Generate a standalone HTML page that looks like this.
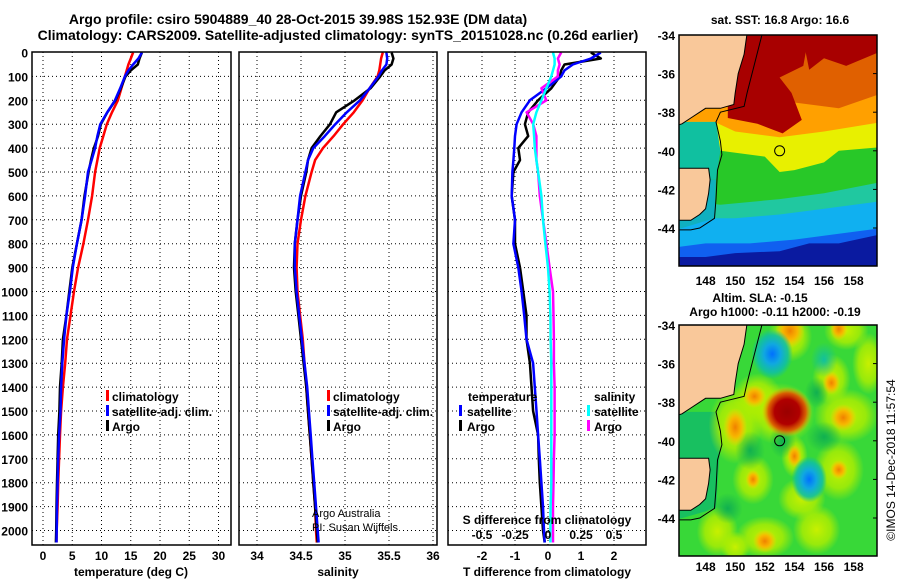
<!DOCTYPE html>
<html><head><meta charset="utf-8"><style>
html,body{margin:0;padding:0;background:#fff;}
svg{display:block;font-family:"Liberation Sans",Arial,sans-serif;}
text{font-weight:bold;fill:#000;}
</style></head><body>
<svg id="fig" width="900" height="580" viewBox="0 0 900 580" xmlns="http://www.w3.org/2000/svg">
<defs>
<clipPath id="c1"><rect x="32" y="52" width="199" height="493"/></clipPath>
<clipPath id="c2"><rect x="239" y="52" width="198" height="493"/></clipPath>
<clipPath id="c3"><rect x="448" y="52" width="198" height="493"/></clipPath>
<clipPath id="cm1"><rect x="679" y="35" width="198" height="231"/></clipPath>
<clipPath id="cm2"><rect x="679" y="325" width="198" height="231"/></clipPath>
<radialGradient id="gY"><stop offset="0" stop-color="#c8f000"/><stop offset="0.6" stop-color="#b0ee00" stop-opacity="0.8"/><stop offset="1" stop-color="#b0ee00" stop-opacity="0"/></radialGradient>
<radialGradient id="gO"><stop offset="0" stop-color="#f08000"/><stop offset="0.5" stop-color="#ffb000" stop-opacity="0.9"/><stop offset="1" stop-color="#ffd000" stop-opacity="0"/></radialGradient>
<radialGradient id="gR"><stop offset="0" stop-color="#9a0000"/><stop offset="0.5" stop-color="#b00000"/><stop offset="0.75" stop-color="#e05000" stop-opacity="0.9"/><stop offset="1" stop-color="#ffb000" stop-opacity="0"/></radialGradient>
<radialGradient id="gB"><stop offset="0" stop-color="#0070ff"/><stop offset="0.4" stop-color="#10a8e0"/><stop offset="0.75" stop-color="#10c0a0" stop-opacity="0.9"/><stop offset="1" stop-color="#10c0a0" stop-opacity="0"/></radialGradient>
<radialGradient id="gT"><stop offset="0" stop-color="#10c0a0"/><stop offset="1" stop-color="#10c0a0" stop-opacity="0"/></radialGradient>
<radialGradient id="gG"><stop offset="0" stop-color="#10b050"/><stop offset="1" stop-color="#10b050" stop-opacity="0"/></radialGradient>
</defs>

<text x="298" y="24" text-anchor="middle" font-size="14">Argo profile: csiro 5904889_40 28-Oct-2015 39.98S 152.93E (DM data)</text>
<text x="338" y="40" text-anchor="middle" font-size="14">Climatology: CARS2009. Satellite-adjusted climatology: synTS_20151028.nc (0.26d earlier)</text>

<g id="grids"></g>
<g id="marks"></g>

<rect x="32" y="52" width="199" height="493" fill="none" stroke="#000" stroke-width="1.5"/>
<rect x="239" y="52" width="198" height="493" fill="none" stroke="#000" stroke-width="1.5"/>
<rect x="448" y="52" width="198" height="493" fill="none" stroke="#000" stroke-width="1.5"/>

<g id="labels" font-size="12"></g>

<text x="131" y="576" text-anchor="middle" font-size="12">temperature (deg C)</text>
<text x="338" y="576" text-anchor="middle" font-size="12">salinity</text>
<text x="547" y="576" text-anchor="middle" font-size="12">T difference from climatology</text>
<text x="547" y="524" text-anchor="middle" font-size="12">S difference from climatology</text>

<g font-size="12">
<rect x="106" y="390" width="3" height="11" fill="#f00"/><text x="112" y="401">climatology</text>
<rect x="106" y="405" width="3" height="11" fill="#00f"/><text x="112" y="416">satellite-adj. clim.</text>
<rect x="106" y="420" width="3" height="11" fill="#000"/><text x="112" y="431">Argo</text>
</g>
<g font-size="12">
<rect x="327" y="390" width="3" height="11" fill="#f00"/><text x="333" y="401">climatology</text>
<rect x="327" y="405" width="3" height="11" fill="#00f"/><text x="333" y="416">satellite-adj. clim.</text>
<rect x="327" y="420" width="3" height="11" fill="#000"/><text x="333" y="431">Argo</text>
</g>
<text x="312" y="517" font-size="11" style="font-weight:normal" fill="#222">Argo Australia</text>
<text x="312" y="531" font-size="11" style="font-weight:normal" fill="#222">PI: Susan Wijffels</text>
<g font-size="12">
<text x="468" y="401">temperature</text>
<rect x="459" y="405" width="3" height="11" fill="#00f"/><text x="467" y="416">satellite</text>
<rect x="459" y="420" width="3" height="11" fill="#000"/><text x="467" y="431">Argo</text>
<text x="594" y="401">salinity</text>
<rect x="587" y="405" width="3" height="11" fill="#0ff"/><text x="594" y="416">satellite</text>
<rect x="587" y="420" width="3" height="11" fill="#f0f"/><text x="594" y="431">Argo</text>
</g>

<g id="map1" clip-path="url(#cm1)"></g>
<g id="map2" clip-path="url(#cm2)"></g>
<rect x="679" y="35" width="198" height="231" fill="none" stroke="#000" stroke-width="1.5"/>
<rect x="679" y="325" width="198" height="231" fill="none" stroke="#000" stroke-width="1.5"/>
<g id="maplabels" font-size="12"></g>
<text x="780" y="24" text-anchor="middle" font-size="12">sat. SST: 16.8 Argo: 16.6</text>
<text x="760" y="302" text-anchor="middle" font-size="12">Altim. SLA: -0.15</text>
<text x="775" y="316" text-anchor="middle" font-size="12">Argo h1000: -0.11 h2000: -0.19</text>
<text transform="translate(895,460) rotate(-90)" text-anchor="middle" font-size="12" style="font-weight:normal">©IMOS 14-Dec-2018 11:57:54</text>
</svg>
<script>
const depths = [0,25,50,75,100,150,200,250,300,350,400,450,500,600,700,800,900,1000,1100,1200,1300,1400,1500,1600,1700,1800,1900,2000,2050];
const climT = [15.4,15.0,14.6,14.3,14.0,13.4,12.8,11.8,10.9,10.3,9.7,9.3,8.9,8.4,7.7,6.9,6.0,5.3,4.7,4.1,3.8,3.4,3.1,2.9,2.75,2.6,2.5,2.35,2.3];
const satT = [16.9,16.3,15.4,14.6,14.0,13.2,12.3,11.0,9.8,9.3,8.9,8.3,7.7,7.2,6.6,5.8,5.1,4.6,4.0,3.6,3.3,3.1,3.0,2.75,2.6,2.5,2.4,2.35,2.3];
const argoT = [16.9,16.5,16.2,15.0,14.1,13.3,12.4,11.0,9.9,9.4,8.7,8.2,7.8,7.1,6.6,5.8,5.0,4.5,4.0,3.4,3.2,2.9,2.8,2.6,2.5,2.4,2.3,2.25,2.2];
const climS = [35.43,35.41,35.4,35.39,35.37,35.28,35.2,35.1,34.98,34.87,34.75,34.66,34.62,34.55,34.5,34.46,34.45,34.46,34.49,34.52,34.54,34.56,34.58,34.6,34.62,34.64,34.66,34.67,34.68];
const satS = [35.47,35.48,35.47,35.42,35.38,35.28,35.17,35.02,34.89,34.77,34.64,34.58,34.55,34.49,34.46,34.43,34.43,34.45,34.48,34.51,34.54,34.57,34.59,34.61,34.63,34.65,34.67,34.69,34.7];
const argoS = [35.53,35.55,35.53,35.45,35.4,35.29,35.11,34.9,34.83,34.72,34.62,34.58,34.56,34.5,34.46,34.43,34.42,34.44,34.47,34.5,34.53,34.56,34.58,34.6,34.62,34.64,34.66,34.68,34.69];
const argoTdiff = [1.3,1.6,0.5,0.4,0.36,0.1,-0.3,-0.6,-0.7,-0.6,-0.9,-0.85,-1.05,-1.1,-1.0,-1.0,-0.85,-0.75,-0.65,-0.65,-0.55,-0.5,-0.45,-0.3,-0.28,-0.25,-0.2,-0.15,-0.1];
const satTdiff = [1.6,1.3,0.75,0.5,0.4,-0.05,-0.55,-0.8,-0.95,-1.0,-1.02,-1.05,-1.08,-1.1,-1.0,-1.05,-0.9,-0.8,-0.72,-0.65,-0.45,-0.4,-0.35,-0.3,-0.25,-0.2,-0.15,-0.12,-0.1];
const satSdiff = [0.038,0.05,0.05,0.038,0.025,-0.012,-0.05,-0.088,-0.112,-0.105,-0.1,-0.088,-0.075,-0.05,-0.038,-0.02,0,0.012,0.018,0.02,0.025,0.025,0.025,0.025,0.025,0.025,0.02,0.018,0.018];
const argoSdiff = [0.1,0.075,0.088,0.075,0.075,-0.05,-0.012,-0.162,-0.112,-0.088,-0.088,-0.088,-0.075,-0.062,-0.038,-0.012,0.012,0.038,0.042,0.045,0.045,0.05,0.05,0.05,0.045,0.042,0.038,0.038,0.038];
const depthTicks = [0,100,200,300,400,500,600,700,800,900,1000,1100,1200,1300,1400,1500,1600,1700,1800,1900,2000];
const tTicks = [0,5,10,15,20,25,30];
const sTicks = [34,34.5,35,35.5,36];
const tdTicks = [-2,-1,0,1,2];
const sdTicks = [-0.5,-0.25,0,0.25,0.5];
const sdTickLabels = ["-0.5","-0.25","0","0.25","0.5"];
const latTicks = [-34,-36,-38,-40,-42,-44];
const lonTicks = [148,150,152,154,156,158];

const NS='http://www.w3.org/2000/svg';
function yD(d){return 52.5+d*0.239;}
function xT(t){return 43+t*5.85;}
function xS(s){return 257+(s-34)*88;}
function xTd(t){return 548+t*33;}
function xSd(s){return 548+s*132;}
function mk(tag,attrs,parent){const e=document.createElementNS(NS,tag);for(const k in attrs)e.setAttribute(k,attrs[k]);parent.appendChild(e);return e;}
const grids=document.getElementById('grids'), marks=document.getElementById('marks'), labels=document.getElementById('labels');
const panels=[[32,231,xT,tTicks],[239,437,xS,sTicks],[448,646,xTd,tdTicks]];
panels.forEach(p=>{
  depthTicks.forEach(d=>{if(d>0){const l=mk('line',{x1:p[0],x2:p[1],y1:yD(d),y2:yD(d),stroke:'#000','stroke-width':1,'stroke-dasharray':'1,3'},grids);
    
    }});
  p[3].forEach(v=>{const x=p[2](v);const l=mk('line',{x1:x,x2:x,y1:52,y2:545,stroke:'#000','stroke-width':1,'stroke-dasharray':'1,3'},grids);
    
    });
});
depthTicks.forEach(d=>{const t=mk('text',{x:28,y:yD(d)+5,'text-anchor':'end'},labels);t.textContent=d;
  
  });
tTicks.forEach(v=>{const t=mk('text',{x:xT(v),y:560,'text-anchor':'middle'},labels);t.textContent=v;
  
  });
sTicks.forEach(v=>{const t=mk('text',{x:xS(v),y:560,'text-anchor':'middle'},labels);t.textContent=v;
  
  });
tdTicks.forEach(v=>{const t=mk('text',{x:xTd(v),y:560,'text-anchor':'middle'},labels);t.textContent=v;
  
  });
sdTicks.forEach((v,i)=>{const t=mk('text',{x:xSd(v),y:539,'text-anchor':'middle'},labels);t.textContent=sdTickLabels[i];
  
  });

function line(vals,fx,color,clip,name){
  const pts=vals.map((v,i)=>fx(v).toFixed(1)+','+yD(depths[i]).toFixed(1)).join(' ');
  const pl=mk('polyline',{points:pts,fill:'none',stroke:color,'stroke-width':2.5,'stroke-linejoin':'round','clip-path':'url(#'+clip+')'},marks);
  
  
}
line(climT,xT,'#f00','c1','climatology-temperature-line');
line(argoT,xT,'#000','c1','argo-temperature-line');
line(satT,xT,'#00f','c1','satellite-temperature-line');
line(climS,xS,'#f00','c2','climatology-salinity-line');
line(argoS,xS,'#000','c2','argo-salinity-line');
line(satS,xS,'#00f','c2','satellite-salinity-line');
line(argoTdiff,xTd,'#000','c3','argo-tdiff-line');
line(satTdiff,xTd,'#00f','c3','satellite-tdiff-line');
line(argoSdiff,xSd,'#f0f','c3','argo-sdiff-line');
line(satSdiff,xSd,'#0ff','c3','satellite-sdiff-line');

function mx(lon){return 679+(lon-146.2)*14.8;}
function my(lat,off){return off+(-34-lat)*19.3;}
function poly(g,off,pts,fill,name,stroke){
  const p=pts.map(q=>mx(q[0]).toFixed(1)+','+my(q[1],off).toFixed(1)).join(' ');
  const e=mk('polygon',{points:p,fill:fill||'none'},g);
  if(stroke){e.setAttribute('stroke',stroke);e.setAttribute('stroke-width','1');}
  
  
}
function pline(g,off,pts,name){
  const p=pts.map(q=>mx(q[0]).toFixed(1)+','+my(q[1],off).toFixed(1)).join(' ');
  const e=mk('polyline',{points:p,fill:'none',stroke:'#000','stroke-width':1},g);
  
  
}
function blob(g,off,lon,lat,rx,ry,grad){
  const e=mk('ellipse',{cx:mx(lon),cy:my(lat,off),rx:rx*14.8,ry:ry*19.3,fill:'url(#'+grad+')'},g);
  
  
}
const mainland=[[146.0,-33.9],[150.8,-33.9],[150.6,-35],[150.2,-36],[150.0,-37],[149.9,-37.6],[149.0,-37.8],[148,-37.8],[147,-38.3],[146.4,-38.6],[146.0,-38.7]];
const tasmania=[[146.0,-40.9],[147.5,-40.9],[148.2,-40.9],[148.3,-41.5],[148.2,-42.2],[148,-43],[147.6,-43.3],[147,-43.6],[146.0,-43.6]];
const shelf=[[151.8,-34],[151.3,-35.5],[150.8,-37],[150.6,-37.7],[149,-38],[148.7,-38.5],[149,-39.5],[149.1,-40.2],[148.8,-41],[148.7,-42.5],[148.6,-43.5],[147.6,-44],[147,-44.1],[146.0,-44.1]];

const m1=document.getElementById('map1'), O1=35;
poly(m1,O1,[[146,-33],[160,-33],[160,-47],[146,-47]],'#1060f0','sst-sea');
poly(m1,O1,[[146,-47],[160,-47],[160,-44.3],[157,-44.8],[155,-44.8],[153,-45.2],[150,-45.3],[148,-45.5],[146,-45.5]],'#0a1aa0','sst-cold-band');
poly(m1,O1,[[146,-43.5],[160,-42.5],[160,-44],[157,-44.3],[154,-44.6],[151,-44.8],[148,-44.8],[146,-45]],'#10b0f0','sst-cyan-band');
poly(m1,O1,[[146,-42.3],[160,-41.5],[160,-42.6],[156,-43],[153,-43.3],[150,-43.5],[146,-43.5]],'#20c8a0','sst-teal-band');
poly(m1,O1,[[146,-39.8],[153,-40.2],[156,-40.5],[157,-39.9],[160,-39.7],[160,-41.6],[156,-42.2],[153,-42.5],[149,-42.8],[146,-42.5]],'#28c828','sst-green-band');
poly(m1,O1,[[146,-38.3],[160,-38.3],[160,-39.8],[157,-40],[156,-40.6],[154,-41],[153,-41.1],[152,-40.3],[149,-40],[146,-39.9]],'#e8f000','sst-yellow-band');
poly(m1,O1,[[146,-33],[160,-33],[160,-38.5],[156,-39],[153,-39.3],[150,-39],[148.6,-38.5],[146,-38.5]],'#ffa000','sst-orange-band');
poly(m1,O1,[[152,-33.9],[160,-33.9],[160,-37],[157,-37.8],[154,-37.5],[152,-37]],'#e06000','sst-warm-patch');
poly(m1,O1,[[149,-33.9],[155,-33.9],[154.6,-35.6],[153,-36.2],[153.8,-37],[154.5,-38.4],[153.2,-39.1],[151.5,-38.6],[149.5,-38.3],[149.5,-36]],'#a80000','sst-hot-core');
poly(m1,O1,[[154.5,-33.9],[160,-33.9],[160,-34.8],[157.5,-35.6],[156,-35.2],[155,-35.8]],'#a80000','sst-hot-core-east');
poly(m1,O1,[[146,-38.5],[148.7,-38.5],[149,-40],[148.7,-41.5],[146,-41.5]],'#10c0a0','sst-bass-strait');
poly(m1,O1,[[146,-41.5],[148.7,-41.5],[148.6,-43.5],[146,-44.1]],'#10b0c0','sst-tasman-shelf');

const m2=document.getElementById('map2'), O2=325;
poly(m2,O2,[[146,-33],[160,-33],[160,-47],[146,-47]],'#38d838','sla-sea');
poly(m2,O2,[[146,-38.5],[148.7,-38.5],[149,-40],[148.7,-43.5],[146,-44.1]],'#18c060','sla-bass-strait');
[[150,-39.2,1.8,2],[151.5,-37.8,1.7,1.3],[153.7,-34.6,1.5,1.3],[156.5,-36.8,1.3,1.3],[157.5,-38.7,2.2,1.4],[153,-38.6,2.4,1.6],[154,-40.8,0.9,1.1],[157,-41.5,1.7,1.6],[151.2,-42,1.4,1.3],[152,-45,2,1.1],[148.8,-44.7,1.4,1.3],[155.5,-44.6,1.6,1.3],[159,-36,1.1,1.6],[154.5,-43,1.6,1.1],[150,-45.5,1,0.8],[157.5,-34.3,1.5,1]].forEach(b=>blob(m2,O2,b[0],b[1],b[2],b[3],'gY'));
[[153.2,-40,0.9,0.9],[151,-40.5,1,1],[156,-39.8,1.2,0.8],[149.5,-43.5,1,0.8],[155.5,-37.5,0.8,0.8]].forEach(b=>blob(m2,O2,b[0],b[1],b[2],b[3],'gG'));
[[150,-39.3,0.8,1.0],[151.3,-37.7,0.8,0.6],[153.7,-34.3,1.0,0.9],[157.3,-38.8,0.9,0.7],[156.5,-37,0.6,0.6],[152,-45.2,0.8,0.6],[154,-40.8,0.5,0.6],[157,-41.5,0.6,0.5],[151.2,-42,0.5,0.5],[157,-34.2,0.6,0.6]].forEach(b=>blob(m2,O2,b[0],b[1],b[2],b[3],'gO'));
blob(m2,O2,153.5,-38.5,1.7,1.3,'gR');
[[156,-35.8,0.9,0.9]].forEach(b=>blob(m2,O2,b[0],b[1],b[2],b[3],'gT'));
[[152.5,-35.5,1.4,1.3],[155,-42,1.2,1.2]].forEach(b=>blob(m2,O2,b[0],b[1],b[2],b[3],'gB'));

[[m1,O1],[m2,O2]].forEach(m=>{
  poly(m[0],m[1],mainland,'#f9c89a','mainland-land','#000');
  poly(m[0],m[1],tasmania,'#f9c89a','tasmania-land','#000');
  pline(m[0],m[1],shelf,'shelf-contour');
  const c=mk('circle',{cx:mx(153),cy:my(-40,m[1]),r:5,fill:'none',stroke:'#000','stroke-width':1},m[0]);
  
  
});
const ml=document.getElementById('maplabels');
[[O1,285],[O2,571]].forEach(o=>{
  latTicks.forEach(v=>{const t=mk('text',{x:675,y:my(v,o[0])+5,'text-anchor':'end'},ml);t.textContent=v;
    
    
    const k=mk('line',{x1:873,x2:877,y1:my(v,o[0]),y2:my(v,o[0]),stroke:'#000'},ml);
    
    });
  lonTicks.forEach(v=>{const t=mk('text',{x:mx(v),y:o[1],'text-anchor':'middle'},ml);t.textContent=v;
    
    });
});
</script>
</body></html>
